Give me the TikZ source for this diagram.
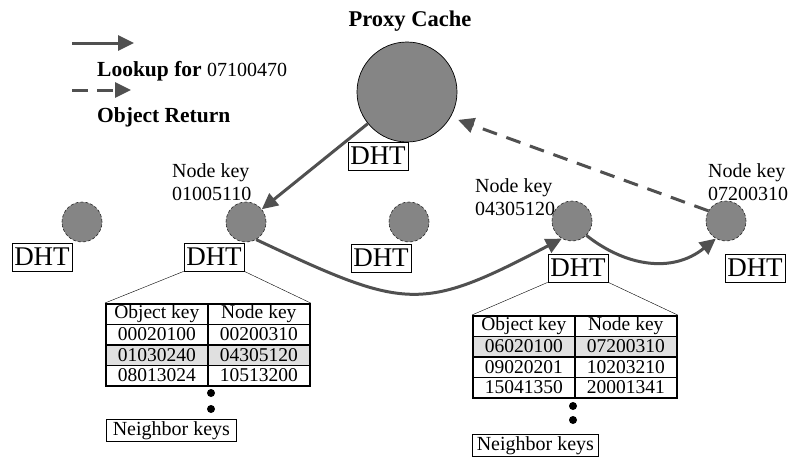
\documentclass[tikz,border=0pt]{standalone}
\usepackage{fontspec}
\setmainfont{Liberation Serif}
\usetikzlibrary{calc, positioning, arrows.meta, matrix}
\definecolor{peerGray}{RGB}{133, 133, 133}
\definecolor{routeGray}{RGB}{80, 80, 80}
\definecolor{hitGray}{RGB}{224, 224, 224}

\tikzset{
  peer/.style={circle, draw=black!85, densely dashed, line width=0.6pt, fill=peerGray, minimum size=40pt, inner sep=0pt},
  dhtbox/.style={draw, line width=0.8pt, font=\fontsize{27}{27}\selectfont, minimum width=60pt, minimum height=28pt, inner sep=1pt},
  keylabel/.style={align=left, anchor=north west, inner sep=0pt, font=\fontsize{20}{23}\selectfont},
  lookup/.style={-{Triangle[length=16pt, width=15pt]}, line width=3pt, routeGray},
  objreturn/.style={lookup, dash pattern=on 15pt off 10pt},
  keytable/.style={matrix of nodes, anchor=north west, inner sep=0pt, outer sep=0pt, row sep=-1.6pt, column sep=-1.6pt,
    nodes={draw, line width=1.6pt, minimum width=102pt, minimum height=20.5pt, inner sep=0pt, outer sep=0pt,
      font=\fontsize{19.5}{19.5}\selectfont}},
  dot/.style={circle, fill=black, minimum size=8pt, inner sep=0pt},
  nbrbox/.style={draw, line width=0.8pt, anchor=north west, minimum height=22pt, inner sep=1pt,
    font=\fontsize{20}{20}\selectfont},
}

\begin{document}
\begin{tikzpicture}[x=1pt, y=-1pt]
  \useasboundingbox (0,0) rectangle (788,458);

  % legend
  \coordinate (lgS1) at (72,43);
  \coordinate (lgS2) at (134,43);
  \coordinate (lgD1) at (72,90);
  \coordinate (lgD2) at (131,90);
  \draw[lookup] (lgS1) -- (lgS2);
  \draw[objreturn, dash pattern=on 16pt off 9pt] (lgD1) -- (lgD2);
  \node[anchor=base west, inner sep=0pt, font=\fontsize{21.5}{21.5}\selectfont\bfseries] (lgLookup) at (97,76)
    {Lookup for {\mdseries\fontsize{20}{20}\selectfont 07100470}};
  \node[anchor=base west, inner sep=0pt, font=\fontsize{21.5}{21.5}\selectfont\bfseries] (lgReturn) at (97,122)
    {Object Return};

  % proxy cache
  \node[anchor=base, inner sep=0pt, font=\fontsize{22.5}{22.5}\selectfont\bfseries] (proxyTitle) at (410,26) {Proxy Cache};
  \node[circle, draw, line width=0.7pt, fill=peerGray, minimum size=100pt, inner sep=0pt] (proxy) at (407,92) {};
  \node[dhtbox] (dhtP) at (378,156) {DHT};

  % overlay peers
  \node[peer] (c1) at (82,222) {};
  \node[peer] (c2) at (246,222) {};
  \node[peer] (c3) at (409,222) {};
  \node[peer] (c4) at (572,221) {};
  \node[peer] (c5) at (726,221) {};
  \node[dhtbox] (dht1) at (42,257) {DHT};
  \node[dhtbox] (dht2) at (214,257) {DHT};
  \node[dhtbox] (dht3) at (381,258) {DHT};
  \node[dhtbox] (dht4) at (578,268) {DHT};
  \node[dhtbox] (dht5) at (755,268) {DHT};

  \node[keylabel] (key2) at (172,163) {Node key\\01005110};
  \node[keylabel] (key4) at (475,178) {Node key\\04305120};
  \node[keylabel] (key5) at (708,163) {Node key\\07200310};

  % routing
  \draw[lookup] (proxy) -- (c2);
  \draw[lookup] (c2.-60) .. controls (406,310) and (420,313) .. (c4.-120);
  \draw[lookup] (c4.-45) .. controls (625,266) and (672,274) .. (c5.-120);
  \draw[objreturn, shorten >=8pt] (c5.150) -- (proxy.-30);

  % routing tables
  \matrix (tabA) [keytable, row 3/.style={nodes={fill=hitGray}}] at (105,303) {
    Object key & Node key \\
    00020100 & 00200310 \\
    01030240 & 04305120 \\
    08013024 & 10513200 \\
  };
  \matrix (tabB) [keytable, row 2/.style={nodes={fill=hitGray}}] at (472,315) {
    Object key & Node key \\
    06020100 & 07200310 \\
    09020201 & 10203210 \\
    15041350 & 20001341 \\
  };
  \draw[thin] (dht2.south west) -- (tabA.north west);
  \draw[thin] (dht2.south east) -- (tabA.north east);
  \draw[thin] (dht4.south west) -- (tabB.north west);
  \draw[thin] (dht4.south east) -- (tabB.north east);

  \node[dot] (dotA1) at (211,393) {};
  \node[dot] (dotA2) at (211,409) {};
  \node[dot] (dotB1) at (573,406) {};
  \node[dot] (dotB2) at (573,420) {};
  \node[nbrbox, minimum width=130pt] (nbrA) at (106,419) {Neighbor keys};
  \node[nbrbox, minimum width=126pt] (nbrB) at (472,434) {Neighbor keys};
\end{tikzpicture}
\end{document}
